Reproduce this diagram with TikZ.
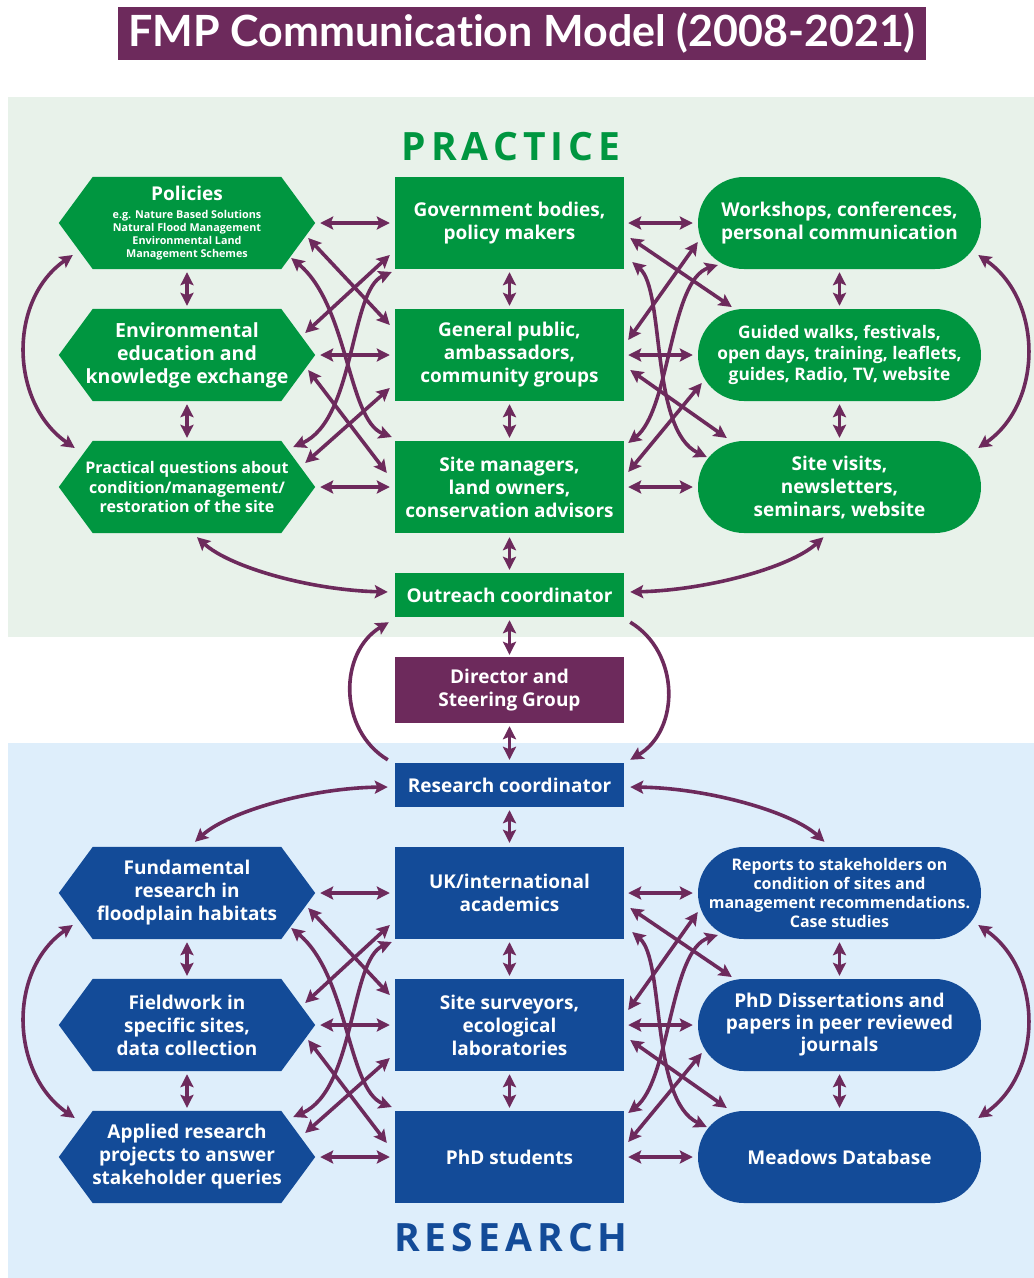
\documentclass[tikz,border=0pt]{standalone}
\usepackage{fontspec}
\setmainfont{Open Sans}
\newfontfamily\titlefont{Lato}[Ligatures={NoCommon,NoRare}]
\usetikzlibrary{arrows.meta,calc}
\definecolor{pgreen}{HTML}{009640}
\definecolor{rblue}{HTML}{134B98}
\definecolor{plum}{HTML}{6D2A5C}
\definecolor{bggreen}{HTML}{E8F2EA}
\definecolor{bgblue}{HTML}{DEEEFB}
\pgfdeclarelayer{bottom}
\pgfdeclarelayer{background}
\pgfsetlayers{bottom,background,main}
\newcommand\fs[2]{\fontsize{#1}{#2}\selectfont}
\newcommand\hexfill[2]{\fill[#2] (#1.west) -- ([xshift=34pt]#1.north west) -- ([xshift=-34pt]#1.north east) -- (#1.east) -- ([xshift=-34pt]#1.south east) -- ([xshift=34pt]#1.south west) -- cycle;}
\newcommand\seclinks[9]{%
  % horizontal
  \draw[dbl,shorten <=5pt,shorten >=5pt] (#1.east) -- (#4.west);
  \draw[dbl,shorten <=5pt,shorten >=5pt] (#2.east) -- (#5.west);
  \draw[dbl,shorten <=5pt,shorten >=5pt] (#3.east) -- (#6.west);
  \draw[dbl,shorten <=4pt,shorten >=5pt] (#4.east) -- (#7.west);
  \draw[dbl,shorten <=4pt,shorten >=5pt] (#5.east) -- (#8.west);
  \draw[dbl,shorten <=4pt,shorten >=5pt] (#6.east) -- (#9.west);
  % vertical
  \draw[dbl,shorten <=3pt,shorten >=3pt] (#1.south) -- (#2.north);
  \draw[dbl,shorten <=3pt,shorten >=3pt] (#2.south) -- (#3.north);
  \draw[dbl,shorten <=3pt,shorten >=3pt] (#4.south) -- (#5.north);
  \draw[dbl,shorten <=3pt,shorten >=3pt] (#5.south) -- (#6.north);
  \draw[dbl,shorten <=3pt,shorten >=3pt] (#7.south) -- (#8.north);
  \draw[dbl,shorten <=3pt,shorten >=3pt] (#8.south) -- (#9.north);
  % left crossings
  \draw[dbl] ([shift={(-7,15)}]#1.east) -- ([shift={(-5,-30)}]#5.west);
  \draw[dbl] ([shift={(-5,32)}]#4.west) -- ([shift={(-10,-22)}]#2.east);
  \draw[dbl] ([shift={(-7,15)}]#2.east) -- ([shift={(-8,-14)}]#6.west);
  \draw[dbl] ([shift={(-5,33)}]#5.west) -- ([shift={(-10,-24)}]#3.east);
  \draw[dbl] ([shift={(-24,35)}]#1.east) .. controls +(57,47) and +(-44,-17) .. ([shift={(-3,-50)}]#6.west);
  \draw[dbl] ([shift={(-3,49)}]#4.west) .. controls +(-42,18) and +(62,-27) .. ([shift={(-22,-40)}]#3.east);
  % right crossings
  \draw[dbl] ([shift={(6,15)}]#4.east) -- ([shift={(34,-48)}]#8.west);
  \draw[dbl] ([shift={(0,19)}]#7.west) -- ([shift={(4,-15)}]#5.east);
  \draw[dbl] ([shift={(6,15)}]#5.east) -- ([shift={(29,-49)}]#9.west);
  \draw[dbl] ([shift={(4,28)}]#8.west) -- ([shift={(4,-15)}]#6.east);
  \draw[dbl] ([shift={(8,39)}]#4.east) .. controls +(33,28) and +(-57,-27) .. ([shift={(9,-30)}]#9.west);
  \draw[dbl] ([shift={(20,42)}]#7.west) .. controls +(-48,15) and +(42,-33) .. ([shift={(4,-44)}]#6.east);
  % side arcs
  \draw[dbl] ([shift={(14,32)}]#1.west) .. controls +(-65,45) and +(-65,-45) .. ([shift={(16,-39)}]#3.west);
  \draw[dbl] ([shift={(-3,32)}]#7.east) .. controls +(65,45) and +(65,-45) .. ([shift={(-3,-39)}]#9.east);
}
\begin{document}
\begin{tikzpicture}[x=1pt,y=-1pt,
  tip/.tip={Stealth[length=13pt,width=13pt,inset=2.5pt]},
  dbl/.style={draw=plum,line width=3.6pt,tip-tip},
  sgl/.style={draw=plum,line width=3.6pt,-tip},
  box/.style={inner sep=0pt,minimum height=92pt,text=white,align=center,font=\bfseries\fs{19}{23}},
  midbox/.style={box,fill=#1,minimum width=229pt},
  hexbox/.style={box,minimum width=256pt},
  stadbox/.style={box,fill=#1,minimum width=283pt,rounded corners=46pt},
  headtxt/.style={font=\bfseries\fs{39}{44}\addfontfeature{LetterSpace=13}}]
\useasboundingbox (0,0) rectangle (1034,1278);
\begin{pgfonlayer}{bottom}
\fill[white] (0,0) rectangle (1034,1278);
\fill[bggreen] (8,97) rectangle (1034,637);
\fill[bgblue] (8,743) rectangle (1034,1278);
\end{pgfonlayer}
% title
\node[fill=plum,text=white,minimum width=808pt,minimum height=53pt,inner sep=0pt,font=\titlefont\bfseries\fs{43}{48}] (title) at (522,33.5) {FMP Communication Model (2008-2021)};
\node[headtxt,text=pgreen] (practice) at (511,147) {PRACTICE};
\node[headtxt,text=rblue] (research) at (511,1238) {RESEARCH};
% practice nodes
\node[hexbox,font=\bfseries\fs{10.8}{13}] (pol) at (187,223) {{\fs{19}{19}Policies}\\[5pt]e.g. Nature Based Solutions\\Natural Flood Management\\Environmental Land\\Management Schemes};
\node[hexbox,font=\bfseries\fs{19.5}{23}] (env) at (187,355) {Environmental\\education and\\knowledge exchange};
\node[hexbox,font=\bfseries\fs{16}{19.5}] (prac) at (187,487) {Practical questions about\\condition/management/\\restoration of the site};
\node[midbox=pgreen] (gov) at (509.5,223) {Government bodies,\\policy makers};
\node[midbox=pgreen] (pub) at (509.5,355) {General public,\\ambassadors,\\community groups};
\node[midbox=pgreen] (sman) at (509.5,487) {Site managers,\\land owners,\\conservation advisors};
\node[stadbox=pgreen] (work) at (839.5,223) {Workshops, conferences,\\personal communication};
\node[stadbox=pgreen,font=\bfseries\fs{17.3}{21}] (walk) at (839.5,355) {Guided walks, festivals,\\open days, training, leaflets,\\guides, Radio, TV, website};
\node[stadbox=pgreen] (visit) at (839.5,487) {Site visits,\\newsletters,\\seminars, website};
\node[midbox=pgreen,minimum height=44pt] (out) at (509.5,595) {Outreach coordinator};
\node[midbox=plum,minimum height=66pt] (dir) at (509.5,690) {Director and\\Steering Group};
\node[midbox=rblue,minimum height=44pt] (rc) at (509.5,785) {Research coordinator};
% research nodes
\node[hexbox] (fund) at (187,893) {Fundamental\\research in\\floodplain habitats};
\node[hexbox] (field) at (187,1025) {Fieldwork in\\specific sites,\\data collection};
\node[hexbox] (appl) at (187,1157) {Applied research\\projects to answer\\stakeholder queries};
\node[midbox=rblue] (uk) at (509.5,893) {UK/international\\academics};
\node[midbox=rblue] (surv) at (509.5,1025) {Site surveyors,\\ecological\\laboratories};
\node[midbox=rblue] (phd) at (509.5,1157) {PhD students};
\node[stadbox=rblue,font=\bfseries\fs{16}{19}] (rep) at (839.5,893) {Reports to stakeholders on\\condition of sites and\\management recommendations.\\Case studies};
\node[stadbox=rblue,font=\bfseries\fs{19}{22}] (diss) at (839.5,1025) {PhD Dissertations and\\papers in peer reviewed\\journals};
\node[stadbox=rblue] (mead) at (839.5,1157) {Meadows Database};
\begin{pgfonlayer}{background}
\hexfill{pol}{pgreen}\hexfill{env}{pgreen}\hexfill{prac}{pgreen}
\hexfill{fund}{rblue}\hexfill{field}{rblue}\hexfill{appl}{rblue}
\end{pgfonlayer}
% links
\seclinks{pol}{env}{prac}{gov}{pub}{sman}{work}{walk}{visit}
\seclinks{fund}{field}{appl}{uk}{surv}{phd}{rep}{diss}{mead}
\draw[dbl,shorten <=4pt,shorten >=3pt] (sman.south) -- (out.north);
\draw[dbl,shorten <=3pt,shorten >=2pt] (out.south) -- (dir.north);
\draw[dbl,shorten <=3pt,shorten >=3pt] (dir.south) -- (rc.north);
\draw[dbl,shorten <=3pt,shorten >=4pt] (rc.south) -- (uk.north);
\draw[dbl] ([shift={(10,4)}]prac.south) .. controls +(33,30) and +(-78,-2) .. ([shift={(-7,-3)}]out.west);
\draw[dbl] ([shift={(-16,4)}]visit.south) .. controls +(-33,30) and +(78,-2) .. ([shift={(6,-3)}]out.east);
\draw[dbl] ([shift={(-7,2)}]rc.west) .. controls +(-78,1) and +(33,-30) .. ([shift={(8,-5)}]fund.north);
\draw[dbl] ([shift={(6,2)}]rc.east) .. controls +(78,1) and +(-33,-30) .. ([shift={(-15,-5)}]rep.north);
\draw[sgl] ([shift={(-7,-3)}]rc.north west) .. controls +(-50,-30) and +(-50,30) .. ([shift={(-6,5)}]out.south west);
\draw[sgl] ([shift={(6,5)}]out.south east) .. controls +(50,30) and +(50,-30) .. ([shift={(6,-3)}]rc.north east);
\end{tikzpicture}
\end{document}
